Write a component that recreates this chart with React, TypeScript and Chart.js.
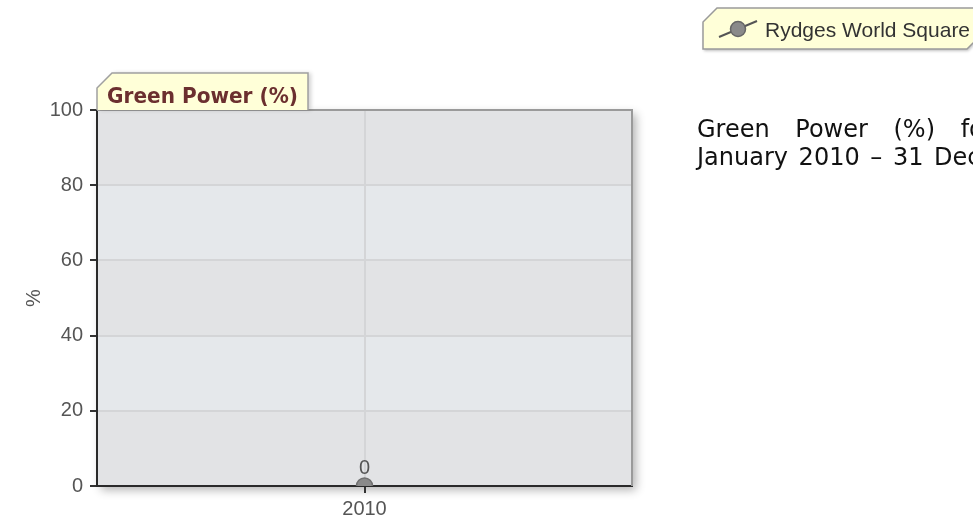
import React, { useEffect, useRef } from "react";
import { Chart, registerables } from "chart.js";

Chart.register(...registerables);

// ---- data ----
const categories: string[] = ["2010"];
const greenPowerValues: number[] = [0];
const yTickValues: number[] = [0, 20, 40, 60, 80, 100];
const seriesLabel = "Rydges World Square";
const chartTitle = "Green Power (%)";
const yAxisTitle = "%";
const descriptionLine1 = "Green Power (%) for Rydges World Square from 1";
const descriptionLine2 = "January 2010 – 31 December 2010";

// ---- layout / style ----
const W = 973;
const H = 519;
const AREA = { left: 97, right: 632, top: 110, bottom: 486 };
const SANS = "'Liberation Sans', Arial, sans-serif";
const VERDANA = "'DejaVu Sans', Verdana, sans-serif";

const decorPlugin = {
  id: "decor",
  beforeDraw(chart: any) {
    const { ctx, chartArea: a, scales } = chart;
    const y = scales.y;
    ctx.save();
    ctx.shadowColor = "rgba(0,0,0,0.30)";
    ctx.shadowBlur = 9;
    ctx.shadowOffsetX = 4;
    ctx.shadowOffsetY = 4;
    ctx.fillStyle = "#e3e4e6";
    ctx.fillRect(a.left, a.top, a.right - a.left, a.bottom - a.top);
    ctx.restore();
    const vals = y.ticks.map((t: any) => t.value);
    for (let i = 0; i < vals.length - 1; i++) {
      const y0 = y.getPixelForValue(vals[i]);
      const y1 = y.getPixelForValue(vals[i + 1]);
      ctx.fillStyle = i % 2 === 0 ? "#e2e3e5" : "#e5e8eb";
      ctx.fillRect(a.left, y1, a.right - a.left, y0 - y1);
    }
  },
  afterDatasetsDraw(chart: any) {
    const { ctx } = chart;
    const meta = chart.getDatasetMeta(0);
    const data = chart.data.datasets[0].data;
    ctx.save();
    ctx.font = `20px ${SANS}`;
    ctx.fillStyle = "#555";
    ctx.textAlign = "center";
    ctx.textBaseline = "alphabetic";
    meta.data.forEach((pt: any, i: number) => {
      ctx.fillText(String(data[i]), pt.x, pt.y - 12);
    });
    ctx.restore();
  },
  afterDraw(chart: any) {
    const { ctx, chartArea: a } = chart;
    ctx.save();
    // top and right frame
    ctx.strokeStyle = "#9a9a9a";
    ctx.lineWidth = 2;
    ctx.beginPath();
    ctx.moveTo(a.left, a.top);
    ctx.lineTo(a.right, a.top);
    ctx.lineTo(a.right, a.bottom);
    ctx.stroke();

    // title tab
    const tl = a.left, tr = 308, tt = 73, cham = 15;
    ctx.save();
    ctx.shadowColor = "rgba(0,0,0,0.18)";
    ctx.shadowBlur = 4;
    ctx.shadowOffsetX = 3;
    ctx.shadowOffsetY = 0;
    ctx.beginPath();
    ctx.moveTo(tl, a.top);
    ctx.lineTo(tl, tt + cham);
    ctx.lineTo(tl + cham, tt);
    ctx.lineTo(tr, tt);
    ctx.lineTo(tr, a.top);
    ctx.closePath();
    ctx.fillStyle = "#ffffd8";
    ctx.fill();
    ctx.restore();
    ctx.beginPath();
    ctx.moveTo(tl, a.top);
    ctx.lineTo(tl, tt + cham);
    ctx.lineTo(tl + cham, tt);
    ctx.lineTo(tr, tt);
    ctx.lineTo(tr, a.top);
    ctx.strokeStyle = "#a0a0a0";
    ctx.lineWidth = 1.5;
    ctx.stroke();
    ctx.font = `bold 22px ${VERDANA}`;
    const tw = ctx.measureText(chartTitle).width;
    const target = 191;
    ctx.save();
    ctx.translate(107, 103);
    ctx.scale(target / tw, 1);
    ctx.fillStyle = "#6b2f2f";
    ctx.textBaseline = "alphabetic";
    ctx.textAlign = "left";
    ctx.fillText(chartTitle, 0, 0);
    ctx.restore();

    // legend box
    const lx = 703, ly = 8, lb = 49, lr = 981, lc = 14;
    ctx.save();
    ctx.shadowColor = "rgba(0,0,0,0.25)";
    ctx.shadowBlur = 3;
    ctx.shadowOffsetX = 1;
    ctx.shadowOffsetY = 2;
    ctx.beginPath();
    ctx.moveTo(lx, lb);
    ctx.lineTo(lx, ly + lc);
    ctx.lineTo(lx + lc, ly);
    ctx.lineTo(lr, ly);
    ctx.lineTo(lr, lb - lc);
    ctx.lineTo(lr - lc, lb);
    ctx.closePath();
    ctx.fillStyle = "#ffffd8";
    ctx.fill();
    ctx.restore();
    ctx.strokeStyle = "#9a9a9a";
    ctx.lineWidth = 1.5;
    ctx.stroke();
    // legend icon
    ctx.strokeStyle = "#555";
    ctx.lineWidth = 2;
    ctx.beginPath();
    ctx.moveTo(719, 37);
    ctx.lineTo(757, 21);
    ctx.stroke();
    ctx.beginPath();
    ctx.arc(738, 29, 7.5, 0, Math.PI * 2);
    ctx.fillStyle = "#8a8a8a";
    ctx.fill();
    ctx.strokeStyle = "#666";
    ctx.lineWidth = 1.5;
    ctx.stroke();
    ctx.font = `21px ${SANS}`;
    ctx.fillStyle = "#333";
    ctx.textAlign = "left";
    ctx.textBaseline = "alphabetic";
    ctx.fillText(chart.data.datasets[0].label, 765, 37);
    ctx.restore();
  },
};

export default function App() {
  const ref = useRef<HTMLCanvasElement | null>(null);

  useEffect(() => {
    if (!ref.current) return;
    const chart = new Chart(ref.current, {
      type: "line",
      data: {
        labels: categories,
        datasets: [
          {
            label: seriesLabel,
            data: greenPowerValues,
            borderColor: "#555",
            backgroundColor: "#8a8a8a",
            pointBackgroundColor: "#8a8a8a",
            pointBorderColor: "#707070",
            pointBorderWidth: 1.5,
            pointRadius: 8,
            showLine: true,
            clip: 0,
          } as any,
        ],
      },
      plugins: [decorPlugin],
      options: {
        responsive: false,
        animation: false,
        devicePixelRatio: 1,
        layout: {
          padding: { left: 0, top: AREA.top, right: W - AREA.right, bottom: 0 },
        },
        plugins: {
          legend: { display: false },
          title: { display: false },
          tooltip: { enabled: false },
        },
        scales: {
          x: {
            type: "category",
            offset: true,
            grid: {
              color: "#d4d5d7",
              lineWidth: 2,
              tickColor: "#333",
              tickLength: 7,
              tickWidth: 2,
            },
            border: { color: "#2a2a2a", width: 2 },
            ticks: {
              color: "#555",
              padding: 4,
              font: { size: 20, family: SANS },
            },
            afterFit: (s: any) => {
              s.height = H - AREA.bottom;
            },
          },
          y: {
            min: yTickValues[0],
            max: yTickValues[yTickValues.length - 1],
            afterBuildTicks: (s: any) => {
              s.ticks = yTickValues.map((v) => ({ value: v }));
            },
            grid: {
              color: "#d4d5d7",
              lineWidth: 2,
              tickColor: "#333",
              tickLength: 7,
              tickWidth: 2,
            },
            border: { color: "#2a2a2a", width: 2 },
            ticks: {
              color: "#555",
              padding: 7,
              font: { size: 20, family: SANS },
            },
            title: {
              display: true,
              text: yAxisTitle,
              color: "#555",
              font: { size: 20, family: SANS },
              padding: { top: 22, bottom: 0 },
            },
            afterFit: (s: any) => {
              s.width = AREA.left;
            },
          },
        },
      } as any,
    });
    return () => chart.destroy();
  }, []);

  const lineStyle: React.CSSProperties = {
    whiteSpace: "nowrap",
    height: 28,
  };

  return (
    <div
      style={{
        position: "fixed",
        left: 0,
        top: 0,
        width: W,
        height: H,
        overflow: "hidden",
        background: "#fff",
      }}
    >
      <canvas ref={ref} width={W} height={H} style={{ position: "absolute", left: 0, top: 0, width: W, height: H }} />
      <div
        style={{
          position: "absolute",
          left: 697,
          top: 115,
          font: `24px ${VERDANA}`,
          lineHeight: "28px",
          color: "#111",
        }}
      >
        <div style={{ ...lineStyle, wordSpacing: 18 }}>{descriptionLine1}</div>
        <div style={{ ...lineStyle, wordSpacing: 3 }}>{descriptionLine2}</div>
      </div>
    </div>
  );
}
